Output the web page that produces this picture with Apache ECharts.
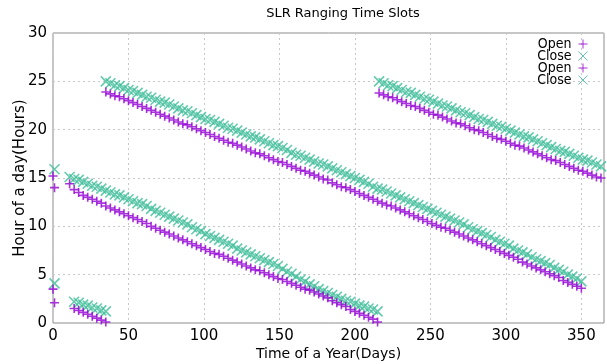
<!DOCTYPE html>
<html>
<head>
<meta charset="utf-8">
<script src="https://cdn.jsdelivr.net/npm/echarts@6/dist/echarts.min.js"></script>
<style>
  html, body { margin: 0; padding: 0; background: #fff; }
  #chart { width: 607px; height: 364px; }
</style>
</head>
<body>
<div id="chart"></div>
<script>
// Day of year sampled every 3 days; each segment has a start day
const STEP = 3;

// set 1: isolated points at the start of the year
const earlyOpen = [[0, 15.2], [0, 3.5], [1, 14.0], [1, 2.1]];
const earlyClose = [[1, 15.9], [1, 4.1]];

// set 1: short segment near midnight (days 14..35)
const shortStart = 14;
const shortOpen = [1.5, 1.3, 1.1, 0.9, 0.7, 0.5, 0.3, 0.1];
const shortClose = [2.2, 2.1, 1.9, 1.8, 1.6, 1.5, 1.3, 1.2];

// set 1: long lower segment (days 11..215)
const lowerStart = 11;
const lowerOpen = [
  14.4, 13.8, 13.5, 13.2, 13.0, 12.8, 12.6, 12.4, 12.1, 11.9, 11.7, 11.5, 11.3, 11.1,
  10.9, 10.7, 10.5, 10.3, 10.0, 9.8, 9.6, 9.4, 9.2, 9.0, 8.8, 8.6, 8.4, 8.2, 8.0, 7.8,
  7.6, 7.4, 7.2, 7.1, 6.9, 6.7, 6.5, 6.3, 6.1, 5.9, 5.7, 5.5, 5.4, 5.2, 5.0, 4.8, 4.6,
  4.5, 4.3, 4.1, 3.9, 3.7, 3.5, 3.4, 3.2, 3.0, 2.8, 2.6, 2.3, 2.1, 1.9, 1.7, 1.4, 1.2,
  1.0, 0.8, 0.6, 0.4, 0.1
];
const lowerClose = [
  15.1, 14.9, 14.8, 14.6, 14.4, 14.2, 14.1, 13.9, 13.7, 13.5, 13.3, 13.2, 13.0, 12.8,
  12.6, 12.4, 12.3, 12.1, 11.8, 11.6, 11.4, 11.2, 11.0, 10.8, 10.6, 10.4, 10.2, 9.9, 9.7,
  9.5, 9.2, 9.0, 8.8, 8.6, 8.4, 8.2, 8.0, 7.7, 7.5, 7.3, 7.1, 6.9, 6.7, 6.5, 6.3, 6.1,
  5.9, 5.6, 5.3, 5.1, 4.8, 4.5, 4.3, 4.0, 3.8, 3.5, 3.3, 3.1, 2.9, 2.7, 2.5, 2.3, 2.2,
  2.0, 1.8, 1.7, 1.5, 1.4, 1.2
];

// set 2: long upper segment (days 35..350)
const upperStart = 35;
const upperOpen = [
  23.9, 23.7, 23.5, 23.4, 23.2, 23.0, 22.8, 22.6, 22.4, 22.2, 22.0, 21.8, 21.6, 21.4,
  21.2, 21.0, 20.8, 20.6, 20.5, 20.3, 20.1, 19.9, 19.7, 19.5, 19.3, 19.1, 18.9, 18.7,
  18.6, 18.4, 18.2, 18.0, 17.8, 17.6, 17.5, 17.3, 17.1, 16.9, 16.7, 16.6, 16.4, 16.2,
  16.0, 15.8, 15.7, 15.5, 15.3, 15.1, 14.9, 14.8, 14.5, 14.3, 14.1, 14.0, 13.8, 13.6,
  13.4, 13.2, 13.0, 12.8, 12.6, 12.4, 12.2, 12.1, 11.9, 11.7, 11.5, 11.3, 11.1, 10.9,
  10.7, 10.5, 10.3, 10.1, 9.9, 9.8, 9.6, 9.4, 9.2, 9.0, 8.8, 8.6, 8.4, 8.2, 8.0, 7.8,
  7.6, 7.4, 7.2, 7.0, 6.8, 6.6, 6.3, 6.1, 5.9, 5.7, 5.5, 5.3, 5.1, 4.9, 4.7, 4.4, 4.2,
  4.0, 3.8, 3.6
];
const upperClose = [
  25.0, 24.8, 24.6, 24.5, 24.3, 24.1, 24.0, 23.8, 23.6, 23.4, 23.3, 23.1, 22.9, 22.8,
  22.6, 22.4, 22.2, 22.0, 21.9, 21.7, 21.5, 21.3, 21.1, 21.0, 20.8, 20.6, 20.4, 20.2,
  20.1, 19.9, 19.7, 19.5, 19.3, 19.2, 19.0, 18.8, 18.6, 18.4, 18.3, 18.1, 17.9, 17.6,
  17.4, 17.3, 17.1, 16.9, 16.7, 16.5, 16.4, 16.2, 16.0, 15.8, 15.6, 15.4, 15.2, 15.0,
  14.8, 14.6, 14.4, 14.1, 13.9, 13.8, 13.6, 13.4, 13.2, 13.0, 12.8, 12.6, 12.4, 12.2,
  12.0, 11.8, 11.6, 11.4, 11.2, 11.0, 10.8, 10.6, 10.4, 10.2, 9.9, 9.7, 9.5, 9.3, 9.1,
  8.9, 8.6, 8.4, 8.2, 8.0, 7.7, 7.5, 7.3, 7.1, 6.8, 6.6, 6.4, 6.2, 6.0, 5.7, 5.5, 5.3,
  5.0, 4.8, 4.6, 4.3
];

// set 2: late-year segment (days 216..363)
const lateStart = 216;
const lateOpen = [
  23.8, 23.6, 23.4, 23.3, 23.1, 22.9, 22.7, 22.5, 22.4, 22.2, 22.0, 21.8, 21.6, 21.5,
  21.3, 21.1, 20.9, 20.7, 20.6, 20.4, 20.2, 20.0, 19.9, 19.7, 19.5, 19.3, 19.1, 19.0,
  18.8, 18.6, 18.4, 18.3, 18.1, 17.9, 17.7, 17.5, 17.3, 17.1, 16.9, 16.8, 16.6, 16.4,
  16.2, 16.0, 15.8, 15.7, 15.5, 15.3, 15.1, 15.0
];
const lateClose = [
  25.0, 24.8, 24.6, 24.5, 24.3, 24.1, 23.9, 23.8, 23.6, 23.4, 23.2, 23.1, 22.9, 22.7,
  22.5, 22.4, 22.2, 22.0, 21.8, 21.7, 21.5, 21.3, 21.1, 21.0, 20.8, 20.6, 20.4, 20.3,
  20.1, 19.9, 19.7, 19.5, 19.3, 19.2, 19.0, 18.8, 18.6, 18.4, 18.2, 18.0, 17.8, 17.7,
  17.5, 17.3, 17.1, 16.9, 16.8, 16.6, 16.4, 16.2
];

const xTicks = [0, 50, 100, 150, 200, 250, 300, 350];
const yTicks = [0, 5, 10, 15, 20, 25, 30];

const OPEN_COLOR = "#9400d3";
const CLOSE_COLOR = "#3dbd98";
const PLUS = "path://M0,5L10,5M5,0L5,10";
const CROSS = "path://M0,0L10,10M0,10L10,0";
const FONT = "DejaVu Sans";
const LEGEND_FONT = "DejaVu Sans Condensed, DejaVu Sans";

function toPoints(start, hours) {
  return hours.map((h, i) => [start + i * STEP, h]);
}

function scatter(name, data, isOpen) {
  const color = isOpen ? OPEN_COLOR : CLOSE_COLOR;
  return {
    name,
    type: "scatter",
    data,
    symbol: isOpen ? PLUS : CROSS,
    symbolSize: isOpen ? 9 : 10,
    z: isOpen ? 3 : 2,
    itemStyle: { color: "none", borderColor: color, borderWidth: 1.6 },
    emphasis: { disabled: true },
    animation: false
  };
}

function legendItem(name, isOpen) {
  return {
    name,
    icon: isOpen ? PLUS : CROSS,
    itemStyle: { color: "none", borderColor: isOpen ? OPEN_COLOR : CLOSE_COLOR, borderWidth: 1 }
  };
}

const chart = echarts.init(document.getElementById("chart"), null, { renderer: "canvas" });

chart.setOption({
  backgroundColor: "#fff",
  animation: false,
  textStyle: { fontFamily: FONT },
  title: {
    text: "SLR Ranging Time Slots",
    left: 338,
    textAlign: "center",
    top: 2,
    textStyle: { fontFamily: FONT, fontSize: 13, fontWeight: "normal", color: "#000" }
  },
  legend: {
    orient: "vertical",
    right: 17,
    top: 37,
    align: "right",
    itemWidth: 9,
    itemHeight: 9,
    itemGap: -2,
    padding: 0,
    formatter: (name) => name.split(" ")[0],
    textStyle: { fontFamily: LEGEND_FONT, fontSize: 14, color: "#000", lineHeight: 12, padding: [0, 2, 0, 0] },
    data: [
      legendItem("Open 1", true),
      legendItem("Close 1", false),
      legendItem("Open 2", true),
      legendItem("Close 2", false)
    ]
  },
  grid: {
    left: 53,
    right: 3,
    top: 33,
    bottom: 41,
    outerBoundsMode: "none",
    containLabel: false,
    show: true,
    borderColor: "#8c8c8c",
    borderWidth: 1
  },
  xAxis: {
    type: "value",
    min: 0,
    max: 365,
    interval: 50,
    name: "Time of a Year(Days)",
    nameLocation: "middle",
    nameGap: 24,
    nameMoveOverlap: false,
    nameTextStyle: { fontFamily: FONT, fontSize: 14, color: "#000" },
    axisLine: { show: false },
    axisTick: { show: false },
    axisLabel: {
      fontFamily: FONT,
      fontSize: 15,
      color: "#000",
      margin: 6,
      formatter: (v) => (xTicks.includes(v) ? String(v) : "")
    },
    splitLine: { show: true, lineStyle: { color: "#c8c8c8", type: [2, 3], width: 1 } }
  },
  yAxis: {
    type: "value",
    min: 0,
    max: 30,
    interval: 5,
    name: "Hour of a day(Hours)",
    nameLocation: "middle",
    nameGap: 25,
    nameMoveOverlap: false,
    nameTextStyle: { fontFamily: FONT, fontSize: 15, color: "#000" },
    axisLine: { show: false },
    axisTick: { show: false },
    axisLabel: {
      fontFamily: FONT,
      fontSize: 15,
      color: "#000",
      margin: 6,
      formatter: (v) => (yTicks.includes(v) ? String(v) : "")
    },
    splitLine: { show: true, lineStyle: { color: "#c8c8c8", type: [2, 3], width: 1 } }
  },
  series: [
    scatter("Open 1", earlyOpen.concat(toPoints(shortStart, shortOpen), toPoints(lowerStart, lowerOpen)), true),
    scatter("Close 1", earlyClose.concat(toPoints(shortStart, shortClose), toPoints(lowerStart, lowerClose)), false),
    scatter("Open 2", toPoints(upperStart, upperOpen).concat(toPoints(lateStart, lateOpen)), true),
    scatter("Close 2", toPoints(upperStart, upperClose).concat(toPoints(lateStart, lateClose)), false)
  ]
});
</script>
</body>
</html>
